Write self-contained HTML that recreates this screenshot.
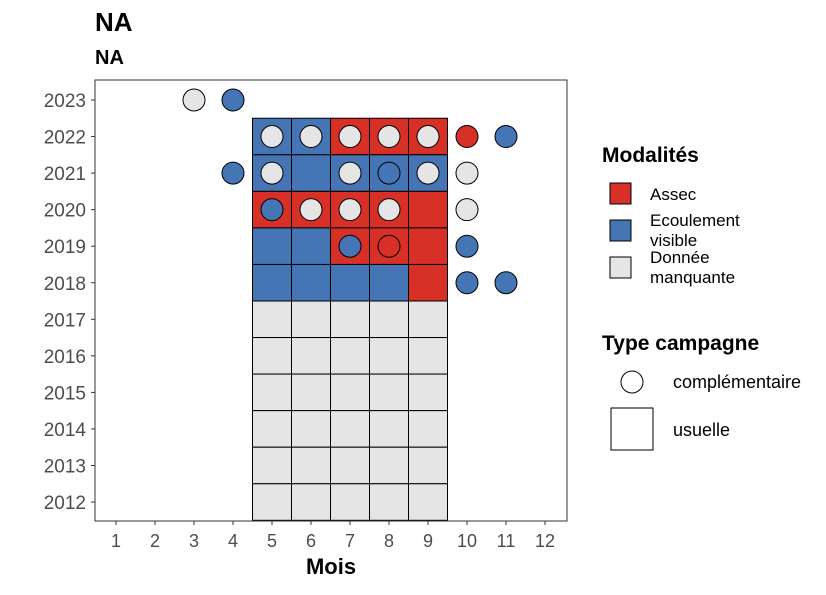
<!DOCTYPE html>
<html><head><meta charset="utf-8"><style>
body{margin:0;background:#fff;font-family:"Liberation Sans",sans-serif}
</style></head><body>
<svg width="826" height="590" xmlns="http://www.w3.org/2000/svg" font-family="Liberation Sans, sans-serif">
<text x="95" y="31" font-size="26" font-weight="bold">NA</text>
<text x="95" y="64" font-size="20" font-weight="bold">NA</text>
<g id="tiles"></g><g id="circles"></g>
<rect x="95" y="80" width="472" height="441" fill="none" stroke="#333" stroke-width="1"/>
<g id="axes"></g>
<text x="331" y="574" font-size="22" font-weight="bold" text-anchor="middle">Mois</text>
<g>
<text x="602" y="162" font-size="21" font-weight="bold">Modalités</text>
<rect x="610" y="183" width="21" height="21" fill="#D73027" stroke="#000"/>
<text x="650" y="200" font-size="17">Assec</text>
<rect x="610" y="220" width="21" height="21" fill="#4575B4" stroke="#000"/>
<text x="650" y="226" font-size="17">Ecoulement</text>
<text x="650" y="246" font-size="17">visible</text>
<rect x="610" y="257" width="21" height="21" fill="#E5E5E5" stroke="#000"/>
<text x="650" y="263" font-size="17">Donnée</text>
<text x="650" y="283" font-size="17">manquante</text>
<text x="602" y="350" font-size="21" font-weight="bold">Type campagne</text>
<circle cx="632" cy="382" r="11" fill="#fff" stroke="#000"/>
<text x="673" y="388" font-size="18">complémentaire</text>
<rect x="611" y="408" width="42" height="42" fill="#fff" stroke="#000"/>
<text x="673" y="436" font-size="18">usuelle</text>
</g>
</svg>
<script>
const colors={A:"#D73027",E:"#4575B4",M:"#E5E5E5"};
const months=[1,2,3,4,5,6,7,8,9,10,11,12];
const years=[2012,2013,2014,2015,2016,2017,2018,2019,2020,2021,2022,2023];
const tileYears=[2022,2021,2020,2019,2018,2017,2016,2015,2014,2013,2012];
const tileMonths=[5,6,7,8,9];
const tileValues=[
"EEAAA","EEEEE","AAAAA","EEAAA","EEEEA","MMMMM","MMMMM","MMMMM","MMMMM","MMMMM","MMMMM"];
const circleYears=[2023,2023,2022,2022,2022,2022,2022,2022,2022,2021,2021,2021,2021,2021,2021,2020,2020,2020,2020,2020,2019,2019,2019,2018,2018];
const circleMonths=[3,4,5,6,7,8,9,10,11,4,5,7,8,9,10,5,6,7,8,10,7,8,10,10,11];
const circleValues=["M","E","M","M","M","M","M","A","E","E","M","M","E","M","M","E","M","M","M","M","E","A","E","E","E"];
const NS="http://www.w3.org/2000/svg";
const xs=m=>116+(m-1)*39, ys=y=>100+(2023-y)*36.55;
const tg=document.getElementById('tiles');
tileYears.forEach((y,i)=>tileMonths.forEach((m,j)=>{
 const r=document.createElementNS(NS,'rect');
 r.setAttribute('x',xs(m)-19.5);r.setAttribute('y',ys(y)-18.3);
 r.setAttribute('width',39);r.setAttribute('height',36.55);
 r.setAttribute('fill',colors[tileValues[i][j]]);r.setAttribute('stroke','#000');
 
 
 tg.appendChild(r);}));
const cg=document.getElementById('circles');
circleYears.forEach((y,i)=>{
 const c=document.createElementNS(NS,'circle');
 c.setAttribute('cx',xs(circleMonths[i]));c.setAttribute('cy',ys(y));c.setAttribute('r',11);
 c.setAttribute('fill',colors[circleValues[i]]);c.setAttribute('stroke','#000');
 
 
 cg.appendChild(c);});
const ag=document.getElementById('axes');
months.forEach(m=>{
 const l=document.createElementNS(NS,'line');
 l.setAttribute('x1',xs(m));l.setAttribute('x2',xs(m));l.setAttribute('y1',521);l.setAttribute('y2',525);l.setAttribute('stroke','#333');
 
 
 ag.appendChild(l);
 const t=document.createElementNS(NS,'text');
 t.setAttribute('x',xs(m));t.setAttribute('y',547);t.setAttribute('text-anchor','middle');t.setAttribute('font-size','18');t.setAttribute('fill','#4d4d4d');
 t.textContent=m;
 
 
 ag.appendChild(t);});
years.forEach(y=>{
 const l=document.createElementNS(NS,'line');
 l.setAttribute('x1',91);l.setAttribute('x2',95);l.setAttribute('y1',ys(y));l.setAttribute('y2',ys(y));l.setAttribute('stroke','#333');
 
 
 ag.appendChild(l);
 const t=document.createElementNS(NS,'text');
 t.setAttribute('x',86);t.setAttribute('y',ys(y)+7);t.setAttribute('text-anchor','end');t.setAttribute('font-size','19');t.setAttribute('fill','#4d4d4d');
 t.textContent=y;
 
 
 ag.appendChild(t);});
</script>
</body></html>
